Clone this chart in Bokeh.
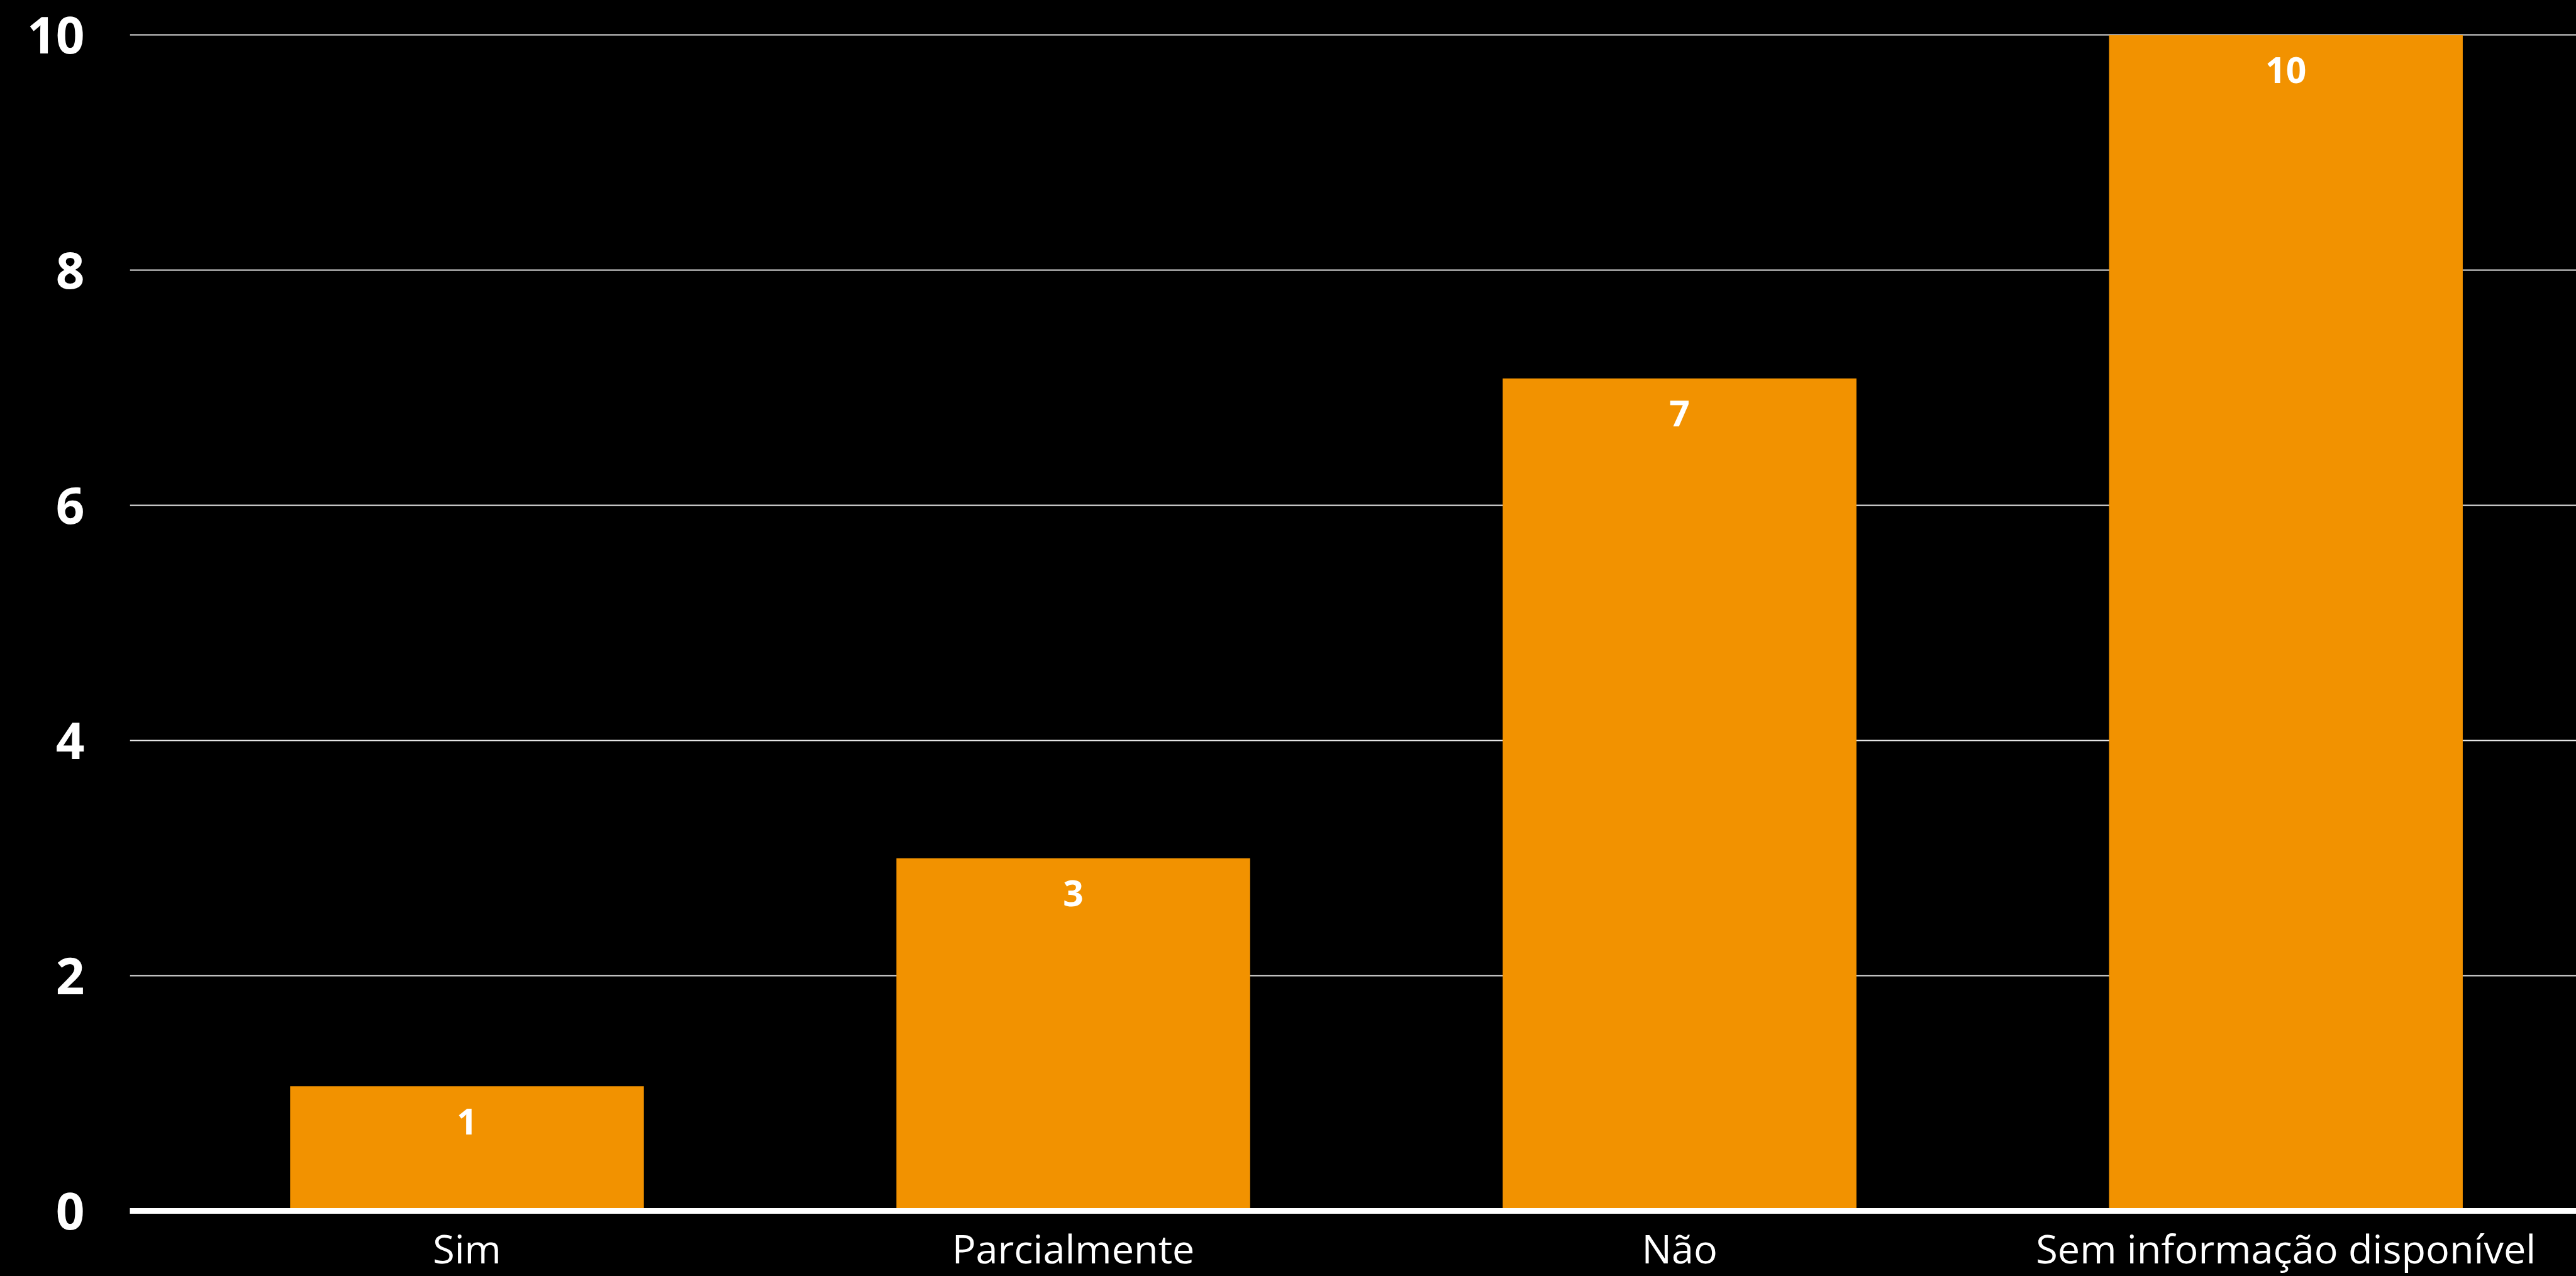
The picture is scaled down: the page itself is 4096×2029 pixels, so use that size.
from bokeh.plotting import figure
from bokeh.models import ColumnDataSource, Range1d, FixedTicker, GlobalInlineStyleSheet
from bokeh.core.properties import value
from bokeh.embed import file_html
from bokeh.resources import INLINE

# ---- data ----
categories = ["Sim", "Parcialmente", "Não", "Sem informação disponível"]
counts = [1.06, 3.0, 7.08, 10.0]          # bar heights as drawn
count_labels = ["1", "3", "7", "10"]      # printed values
y_ticks = [0, 2, 4, 6, 8, 10]

# ---- style ----
BAR = "#F29200"
FONT = "Open Sans"

xs = list(range(len(categories)))
src = ColumnDataSource(dict(x=xs, top=counts, label=count_labels))

p = figure(
    width=4096, height=2029,
    output_backend="svg", toolbar_location=None,
    x_range=Range1d(-0.556, 3.479), y_range=Range1d(0, 10.152),
    min_border_left=206, min_border_right=0,
    min_border_top=27, min_border_bottom=101,
    background_fill_color="black", border_fill_color="black",
    outline_line_color=None,
)
p.stylesheets = [GlobalInlineStyleSheet(css="body{background:#000;}")]

p.vbar(x="x", top="top", bottom=0, width=0.5834, source=src,
       fill_color=BAR, line_color=None)

p.text(x="x", y="top", text="label", source=src,
       text_align="center", text_baseline="alphabetic", y_offset=56,
       text_color="white", text_font=value(FONT), text_font_style="bold",
       text_font_size="57px")

# x axis
xa = p.xaxis[0]
xa.ticker = FixedTicker(ticks=xs)
xa.major_label_overrides = {i: c for i, c in zip(xs, categories)}
xa.axis_line_color = "white"
xa.axis_line_width = 9
xa.major_tick_line_color = None
xa.minor_tick_line_color = None
xa.major_tick_out = 0
xa.major_tick_in = 0
xa.major_label_standoff = 16
xa.major_label_text_color = "white"
xa.major_label_text_font = FONT
xa.major_label_text_font_size = "63px"
xa.major_label_text_font_style = "normal"

# y axis
ya = p.yaxis[0]
ya.ticker = FixedTicker(ticks=y_ticks)
ya.axis_line_color = None
ya.major_tick_line_color = None
ya.minor_tick_line_color = None
ya.major_tick_out = 0
ya.major_tick_in = 0
ya.major_label_standoff = 72
ya.major_label_text_color = "white"
ya.major_label_text_font = FONT
ya.major_label_text_font_size = "80px"
ya.major_label_text_font_style = "bold"

p.xgrid.grid_line_color = None
p.ygrid.grid_line_color = "#e6e6e6"
p.ygrid.grid_line_width = 2

open("out.html", "w").write(file_html(p, INLINE))
